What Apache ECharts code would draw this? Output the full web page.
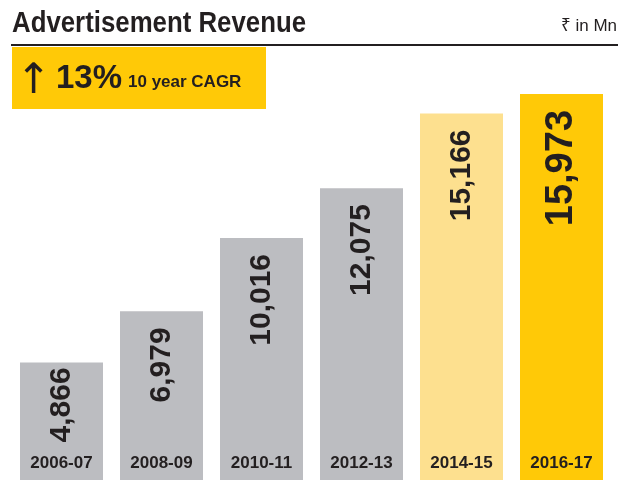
<!DOCTYPE html>
<html>
<head>
<meta charset="utf-8">
<script src="https://cdn.jsdelivr.net/npm/echarts@6/dist/echarts.min.js"></script>
<style>
  html, body { margin: 0; padding: 0; background: #fff; }
  #chart { width: 624px; height: 488px; }
</style>
</head>
<body>
<div id="chart"></div>
<script>
const years = ['2006-07', '2008-09', '2010-11', '2012-13', '2014-15', '2016-17']
const revenue = [4866, 6979, 10016, 12075, 15166, 15973]
const cagr = '13%'

const GRAY = '#bcbdc1'
const LIGHT_YELLOW = '#fde08f'
const YELLOW = '#ffc907'
const INK = '#231f20'
const FONT = '"Liberation Sans", Arial, sans-serif'
const barColors = [GRAY, GRAY, GRAY, GRAY, LIGHT_YELLOW, YELLOW]

const chart = echarts.init(document.getElementById('chart'), null, { renderer: 'canvas' })

const option = {
  animation: false,
  grid: { left: 11.5, right: 12.5, top: 45, bottom: 8 },
  xAxis: {
    type: 'category',
    data: years,
    z: 5,
    axisLine: { show: false },
    axisTick: { show: false },
    axisLabel: {
      inside: true,
      margin: 8,
      color: INK,
      fontFamily: FONT,
      fontWeight: 'bold',
      fontSize: 17
    }
  },
  yAxis: {
    type: 'value',
    min: 0,
    max: 18000,
    show: false,
    splitLine: { show: false }
  },
  graphic: [
    {
      type: 'text',
      x: 12,
      y: 9,
      scaleX: 0.89,
      style: { text: 'Advertisement Revenue', fill: INK, font: 'bold 29px ' + FONT }
    },
    {
      type: 'text',
      right: 7,
      top: 18,
      style: { text: '₹ in Mn', fill: INK, font: '17px "Liberation Sans", "Noto Sans", "DejaVu Sans", sans-serif' }
    },
    {
      type: 'line',
      shape: { x1: 11, y1: 45, x2: 618, y2: 45 },
      style: { stroke: INK, lineWidth: 2 }
    },
    {
      type: 'rect',
      shape: { x: 12, y: 47, width: 254, height: 62 },
      style: { fill: YELLOW }
    },
    {
      type: 'text',
      x: 16,
      y: 61,
      style: { text: '↑', fill: INK, font: '42px "DejaVu Sans", sans-serif' }
    },
    {
      type: 'text',
      x: 56,
      y: 62,
      style: { text: cagr, fill: INK, font: 'bold 33px ' + FONT }
    },
    {
      type: 'text',
      x: 128,
      y: 74,
      style: { text: '10 year CAGR', fill: INK, font: 'bold 17px ' + FONT }
    }
  ],
  series: [{
    type: 'bar',
    barCategoryGap: '17%',
    data: revenue.map((v, i) => ({
      value: v,
      itemStyle: { color: barColors[i] },
      label: i === revenue.length - 1 ? { fontSize: 38 } : (i === 0 ? { distance: 5 } : {})
    })),
    label: {
      show: true,
      position: 'insideTop',
      distance: 16,
      rotate: 90,
      align: 'right',
      verticalAlign: 'middle',
      color: INK,
      fontFamily: FONT,
      fontWeight: 'bold',
      fontSize: 30,
      formatter: p => p.value.toLocaleString('en-US')
    }
  }]
}

chart.setOption(option)
</script>
</body>
</html>
